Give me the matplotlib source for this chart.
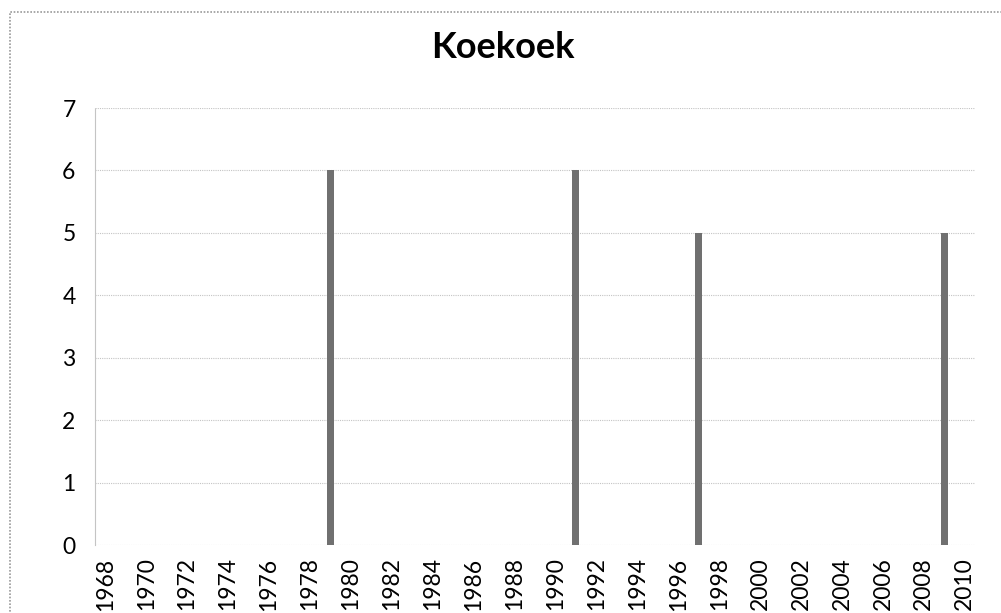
import matplotlib.pyplot as plt
from matplotlib.patches import Rectangle

# data: sightings per year (zero where no bar is drawn)
years = list(range(1968, 2011))
counts = {1979: 6, 1991: 6, 1997: 5, 2009: 5}
values = [counts.get(y, 0) for y in years]
yticks = [0, 1, 2, 3, 4, 5, 6, 7]

plt.rcParams['font.family'] = ['Lato', 'DejaVu Sans']

fig = plt.figure(figsize=(10.01, 6.13), dpi=100)
# outer chart border (runs off the right and bottom edge)
fig.patches.append(Rectangle((10 / 1001, -0.2), 1.2, 1.2 - 12 / 613,
                             transform=fig.transFigure, fill=False,
                             edgecolor='#9a9a9a', lw=1.2, ls=(0, (1, 1))))

ax = fig.add_axes([95 / 1001, 1 - 545 / 613, 880 / 1001, (545 - 108) / 613])
x = list(range(len(years)))
ax.bar(x, values, width=0.34, color='#707070', zorder=3)

ax.set_xlim(-0.5, len(years) - 0.5)
ax.set_ylim(0, 7)
ax.set_yticks(yticks)
ax.set_yticklabels([str(v) for v in yticks], fontsize=16.5)
ax.set_xticks(x[::2])
ax.set_xticklabels([str(y) for y in years[::2]], rotation=90, fontsize=16.5,
                   va='top')
ax.tick_params(axis='both', length=0)
ax.tick_params(axis='y', pad=14)
ax.tick_params(axis='x', pad=9)

ax.grid(axis='y', color='#c4c4c4', lw=0.8, ls=(0, (1, 1)), zorder=0)
for s in ['top', 'right', 'bottom']:
    ax.spines[s].set_visible(False)
ax.spines['left'].set_color('#c4c4c4')
ax.spines['left'].set_linestyle((0, (1, 1)))
ax.spines['left'].set_linewidth(0.8)

fig.text(503 / 1001, 1 - 47 / 613, 'Koekoek', ha='center', va='center',
         fontsize=26, fontweight='bold')

fig.savefig('out.png', dpi=100)
